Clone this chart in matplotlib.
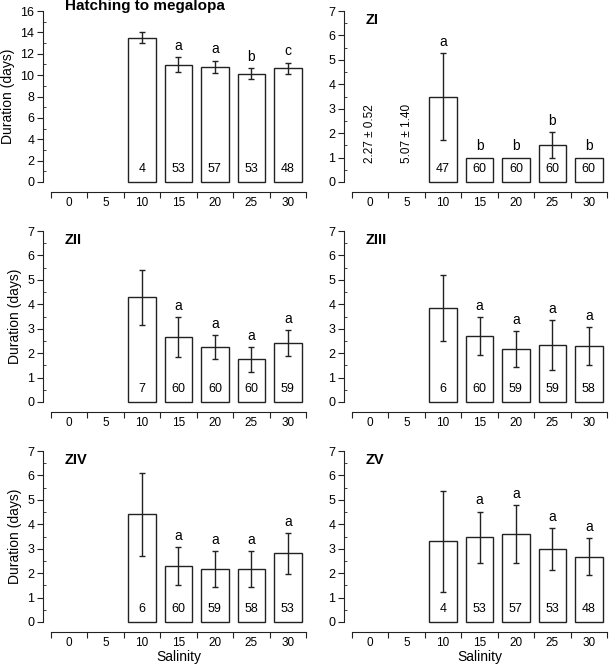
import numpy as np
import matplotlib
matplotlib.use("Agg")
import matplotlib.pyplot as plt
from matplotlib.ticker import MultipleLocator

plt.rcParams['font.family'] = ['Liberation Sans', 'DejaVu Sans']

salinity = ['0', '5', '10', '15', '20', '25', '30']
nan = np.nan

# panel data: mean, sd, n, letters
hm_mean = [nan, nan, 13.5, 10.97, 10.78, 10.15, 10.66]
hm_sd = [nan, nan, 0.52, 0.68, 0.58, 0.48, 0.52]
hm_n = ['', '', '4', '53', '57', '53', '48']
hm_let = ['', '', '', 'a', 'a', 'b', 'c']

z1_mean = [nan, nan, 3.5, 1.0, 1.0, 1.52, 1.0]
z1_sd = [nan, nan, 1.79, 0, 0, 0.54, 0]
z1_n = ['', '', '47', '60', '60', '60', '60']
z1_let = ['', '', 'a', 'b', 'b', 'b', 'b']
z1_notes = ['2.27 ± 0.52', '5.07 ± 1.40']

z2_mean = [nan, nan, 4.28, 2.66, 2.25, 1.74, 2.40]
z2_sd = [nan, nan, 1.11, 0.81, 0.50, 0.50, 0.53]
z2_n = ['', '', '7', '60', '60', '60', '59']
z2_let = ['', '', '', 'a', 'a', 'a', 'a']

z3_mean = [nan, nan, 3.84, 2.70, 2.17, 2.33, 2.29]
z3_sd = [nan, nan, 1.35, 0.76, 0.74, 1.03, 0.76]
z3_n = ['', '', '6', '60', '59', '59', '58']
z3_let = ['', '', '', 'a', 'a', 'a', 'a']

z4_mean = [nan, nan, 4.41, 2.29, 2.17, 2.17, 2.81]
z4_sd = [nan, nan, 1.70, 0.76, 0.74, 0.74, 0.83]
z4_n = ['', '', '6', '60', '59', '58', '53']
z4_let = ['', '', '', 'a', 'a', 'a', 'a']

z5_mean = [nan, nan, 3.30, 3.46, 3.60, 2.99, 2.67]
z5_sd = [nan, nan, 2.06, 1.06, 1.18, 0.87, 0.76]
z5_n = ['', '', '4', '53', '57', '53', '48']
z5_let = ['', '', '', 'a', 'a', 'a', 'a']

W, H = 609, 670
fig = plt.figure(figsize=(W / 100, H / 100), dpi=100)
lc = '#222222'


def panel(x0, x1, ytop, ybot, title, mean, sd, n, let, ymax, ylabel, xlabel):
    ax = fig.add_axes([x0 / W, 1 - ybot / H, (x1 - x0) / W, (ybot - ytop) / H])
    x = np.arange(len(salinity))
    m = np.array(mean, dtype=float)
    s = np.array(sd, dtype=float)
    ok = ~np.isnan(m)
    ax.bar(x[ok], m[ok], width=0.76, color='white', edgecolor=lc, linewidth=1.0,
           zorder=2, clip_on=False)
    has = ok & (s > 0)
    ax.errorbar(x[has], m[has], yerr=s[has], fmt='none', ecolor=lc, elinewidth=1.0,
                capsize=2.5, capthick=1.0, zorder=3)
    for i in range(len(x)):
        if n[i]:
            ax.annotate(n[i], (x[i], 0), xytext=(0, 9.5), textcoords='offset points',
                        ha='center', va='center', fontsize=9, color='black')
        if let[i]:
            top = m[i] + (s[i] if s[i] > 0 else 0)
            ax.annotate(let[i], (x[i], top), xytext=(0, 3), textcoords='offset points',
                        ha='center', va='bottom', fontsize=10, color='black')
    ax.set_xlim(-0.5, 6.5)
    ax.set_ylim(0, ymax)
    for sp in ['top', 'right']:
        ax.spines[sp].set_visible(False)
    ax.spines['left'].set_position(('outward', 6))
    ax.spines['bottom'].set_position(('outward', 7))
    ax.spines['left'].set_color(lc)
    ax.spines['bottom'].set_color(lc)
    ax.set_xticks(np.arange(-0.5, 7, 1))
    ax.set_xticklabels([])
    ax.set_xticks(x, minor=True)
    ax.set_xticklabels(salinity, minor=True)
    ax.tick_params(axis='x', which='major', direction='out', length=4, color=lc)
    ax.tick_params(axis='x', which='minor', length=0, labelsize=8.5, pad=4)
    if ymax > 10:
        ax.yaxis.set_major_locator(MultipleLocator(2))
        ax.yaxis.set_minor_locator(MultipleLocator(1))
    else:
        ax.yaxis.set_major_locator(MultipleLocator(1))
        ax.yaxis.set_minor_locator(MultipleLocator(0.5))
    ax.tick_params(axis='y', which='major', direction='out', length=4, labelsize=9, pad=2, color=lc)
    ax.tick_params(axis='y', which='minor', direction='in', length=2.5, color=lc)
    ax.text(0.055, 0.95, title, transform=ax.transAxes, fontsize=10.5, fontweight='bold',
            ha='left', va='center')
    if ylabel:
        ax.set_ylabel('Duration (days)', fontsize=10, labelpad=4)
    if xlabel:
        fig.text((x0 + x1) / 2 / W, 1 - 657 / H, 'Salinity', fontsize=10,
                 ha='center', va='center')
    return ax


rows = [(11, 182), (231, 402), (451, 622)]
lx = (51, 306)
rx = (352, 607)

ax = panel(*lx, *rows[0], 'Hatching to megalopa', hm_mean, hm_sd, hm_n, hm_let, 16, True, False)
ax.texts[-1].set_position((0.055, 1.03))
ax.texts[-1].set_fontsize(11)
ax1 = panel(*rx, *rows[0], 'ZI', z1_mean, z1_sd, z1_n, z1_let, 7, False, False)
for i, t in enumerate(z1_notes):
    ax1.text(i, 2.0, t, rotation=90, ha='center', va='center', fontsize=8.5)
a2 = panel(*lx, *rows[1], 'ZII', z2_mean, z2_sd, z2_n, z2_let, 7, True, False)
a3 = panel(*rx, *rows[1], 'ZIII', z3_mean, z3_sd, z3_n, z3_let, 7, False, False)
a4 = panel(*lx, *rows[2], 'ZIV', z4_mean, z4_sd, z4_n, z4_let, 7, True, True)
a5 = panel(*rx, *rows[2], 'ZV', z5_mean, z5_sd, z5_n, z5_let, 7, False, True)

fig.savefig('out.png', dpi=100)
